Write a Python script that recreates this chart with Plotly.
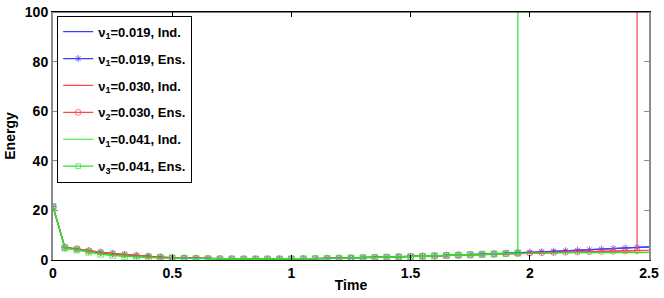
import numpy as np
import plotly.graph_objects as go

time = [round(0.05 * i, 2) for i in range(51)]

blue_ind = [21.5, 5.0, 4.4, 3.6, 3.0, 2.5, 2.1, 1.7, 1.4, 1.1, 0.9, 0.75, 0.65, 0.55, 0.5, 0.45, 0.42, 0.4, 0.4, 0.42,
            0.45, 0.5, 0.55, 0.62, 0.7, 0.8, 0.9, 1.0, 1.1, 1.25, 1.4, 1.55, 1.7, 1.85, 2.0, 2.15, 2.3, 2.5, 2.7, 2.9,
            3.1, 3.3, 3.5, 3.7, 3.9, 4.1, 4.35, 4.6, 4.85, 5.1, 5.3]
blue_ens = [21.5, 5.0, 4.4, 3.7, 3.1, 2.6, 2.2, 1.8, 1.5, 1.2, 0.95, 0.8, 0.68, 0.57, 0.5, 0.45, 0.42, 0.4, 0.4, 0.42,
            0.45, 0.5, 0.55, 0.62, 0.7, 0.8, 0.9, 1.0, 1.1, 1.25, 1.4, 1.55, 1.7, 1.85, 2.0, 2.15, 2.3, 2.5, 2.7, 2.9,
            3.1, 3.3, 3.5, 3.7, 3.9, 4.1, 4.35, 4.6, 4.85, 5.1, 5.3]
red_ind = [21.5, 5.0, 4.4, 3.6, 3.0, 2.5, 2.1, 1.7, 1.4, 1.1, 0.9, 0.75, 0.65, 0.55, 0.5, 0.45, 0.42, 0.4, 0.4, 0.42,
           0.45, 0.5, 0.55, 0.62, 0.7, 0.8, 0.9, 1.0, 1.1, 1.25, 1.4, 1.55, 1.7, 1.85, 2.0, 2.15, 2.3, 2.45, 2.6, 2.75,
           2.85, 2.95, 3.05, 3.15, 3.25, 3.35, 3.45, 3.55, 3.65, 3.75, 100000.0]
red_ens = [21.5, 5.1, 4.5, 3.7, 3.1, 2.6, 2.2, 1.8, 1.5, 1.2, 0.95, 0.8, 0.68, 0.57, 0.5, 0.45, 0.42, 0.4, 0.4, 0.42,
           0.45, 0.5, 0.55, 0.62, 0.7, 0.8, 0.9, 1.0, 1.1, 1.25, 1.4, 1.55, 1.7, 1.85, 2.0, 2.15, 2.3, 2.45, 2.6, 2.75,
           2.85, 2.95, 3.05, 3.15, 3.25, 3.35, 3.45, 3.55, 3.65, 3.75, 3.85]
green_ind = [21.5, 4.8, 4.1, 3.2, 2.4, 1.9, 1.5, 1.2, 1.0, 0.8, 0.7, 0.6, 0.5, 0.45, 0.4, 0.38, 0.36, 0.35, 0.36, 0.38,
             0.42, 0.47, 0.53, 0.6, 0.68, 0.77, 0.87, 0.97, 1.08, 1.2, 1.35, 1.5, 1.65, 1.8, 1.95, 2.1, 2.25, 2.4, 2.6,
             2.8, 100000.0, None, None, None, None, None, None, None, None, None, None]
green_ens = [21.5, 4.8, 4.1, 3.2, 2.4, 1.9, 1.5, 1.2, 1.0, 0.8, 0.7, 0.6, 0.5, 0.45, 0.4, 0.38, 0.36, 0.35, 0.36, 0.38,
             0.42, 0.47, 0.53, 0.6, 0.68, 0.77, 0.87, 0.97, 1.08, 1.2, 1.35, 1.5, 1.65, 1.8, 1.95, 2.1, 2.25, 2.4, 2.6,
             2.8, 2.85, 2.88, 2.91, 2.94, 2.97, 3.0, 3.02, 3.04, 3.06, 3.08, 3.1]

# marker visibility per point (markers drawn up to t=2.45 for blue/red, up to 1.95 for green)
blue_marker_size = [6 if t <= 2.45 else 0 for t in time]
red_marker_size = [6 if t <= 2.45 else 0 for t in time]
green_marker_size = [6 if t <= 1.95 else 0 for t in time]

names = ["ν<sub>1</sub>=0.019, Ind.", "ν<sub>1</sub>=0.019, Ens.", "ν<sub>1</sub>=0.030, Ind.",
         "ν<sub>2</sub>=0.030, Ens.", "ν<sub>1</sub>=0.041, Ind.", "ν<sub>3</sub>=0.041, Ens."]

BLUE = "rgb(60,60,255)"
RED = "rgb(255,70,70)"
GREEN = "rgb(40,230,40)"

fig = go.Figure()
fig.add_trace(go.Scatter(x=time, y=blue_ind, mode="lines", name=names[0], legendgroup="a",
                         line=dict(color=BLUE, width=1.2)))
fig.add_trace(go.Scatter(x=time, y=blue_ens, mode="lines+markers", name=names[1], legendgroup="b",
                         line=dict(color=BLUE, width=1.2),
                         marker=dict(symbol="asterisk-open", size=blue_marker_size, color=BLUE, line=dict(color=BLUE, width=1))))
fig.add_trace(go.Scatter(x=time, y=red_ind, mode="lines", name=names[2], legendgroup="c",
                         line=dict(color=RED, width=1.2), connectgaps=False))
fig.add_trace(go.Scatter(x=time, y=red_ens, mode="lines+markers", name=names[3], legendgroup="d",
                         line=dict(color=RED, width=1.2),
                         marker=dict(symbol="circle-open", size=red_marker_size, color=RED, line=dict(color=RED, width=1))))
fig.add_trace(go.Scatter(x=time, y=green_ind, mode="lines", name=names[4], legendgroup="e",
                         line=dict(color=GREEN, width=1.2), connectgaps=False))
fig.add_trace(go.Scatter(x=time, y=green_ens, mode="lines+markers", name=names[5], legendgroup="f",
                         line=dict(color=GREEN, width=1.2),
                         marker=dict(symbol="square-open", size=green_marker_size, color=GREEN, line=dict(color=GREEN, width=1))))

font = dict(family="Liberation Sans, Arial, sans-serif", size=14, color="black")

fig.update_layout(
    width=664, height=298,
    margin=dict(l=53, r=15, t=12, b=38),
    paper_bgcolor="white", plot_bgcolor="white",
    font=font,
    showlegend=True,
    legend=dict(x=0.007, y=0.985, xanchor="left", yanchor="top", bgcolor="white",
                bordercolor="black", borderwidth=1,
                font=dict(family="Liberation Sans, Arial, sans-serif", size=13, weight="bold"),
                itemwidth=30, tracegroupgap=7),
    xaxis=dict(range=[0, 2.5], tickvals=[0, 0.5, 1, 1.5, 2, 2.5], ticktext=["0", "0.5", "1", "1.5", "2", "2.5"],
               showline=True, linecolor="black", linewidth=1, mirror="ticks", ticks="inside", ticklen=5,
               tickcolor="black", showgrid=False, zeroline=False, automargin=False,
               tickfont=dict(size=14, weight="bold"),
               title=dict(text="Time", font=dict(size=14, weight="bold"), standoff=0)),
    yaxis=dict(range=[0, 100], tickvals=[0, 20, 40, 60, 80, 100],
               showline=True, linecolor="rgb(140,140,140)", linewidth=2, mirror="ticks", ticks="inside", ticklen=5,
               tickcolor="rgb(140,140,140)", showgrid=False, zeroline=False, automargin=False,
               tickfont=dict(size=14, weight="bold"),
               title=dict(text="Energy", font=dict(size=14, weight="bold"), standoff=6)),
    shapes=[dict(type="line", xref="paper", yref="paper", x0=0, x1=1, y0=1, y1=1,
                 line=dict(color="black", width=1), layer="above")],
)

# remove the default 8px page margin so the figure sits at the window's top-left corner
fig.write_html("out.html", config={"displayModeBar": False},
               post_script="document.body.style.margin='0';")
